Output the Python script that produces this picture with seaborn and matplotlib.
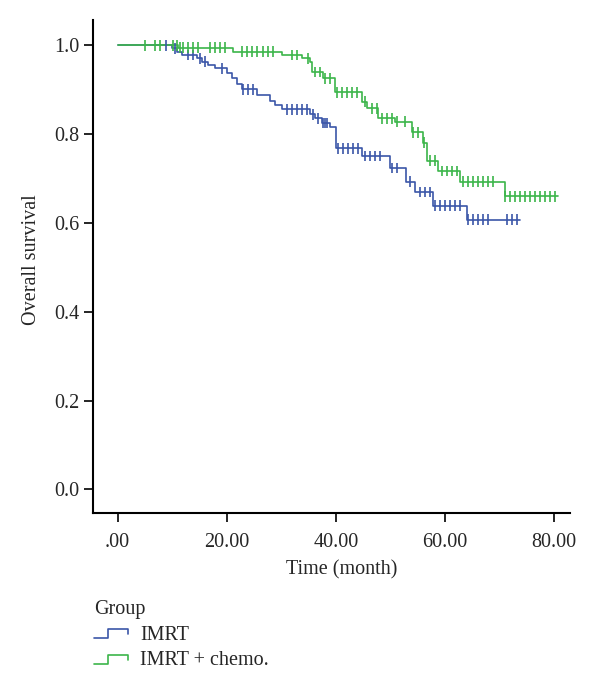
import numpy as np
import pandas as pd
import matplotlib
matplotlib.use('Agg')
import matplotlib.pyplot as plt
from matplotlib.lines import Line2D
from matplotlib.legend_handler import HandlerBase
import seaborn as sns

# Kaplan-Meier steps (time in months, survival)
imrt_time = [0, 10.0, 10.9, 11.8, 14.6, 15.5, 16.6, 17.9, 20.1, 21.0, 21.9, 22.8,
             25.5, 27.9, 28.8, 30.1, 35.3, 36.2, 37.5, 38.9, 40.0, 44.8, 49.9,
             52.8, 54.5, 57.8, 64.0, 73.7]
imrt_surv = [1.0, 0.993, 0.986, 0.978, 0.971, 0.963, 0.956, 0.948, 0.937, 0.926, 0.914, 0.901,
             0.888, 0.875, 0.866, 0.856, 0.845, 0.836, 0.825, 0.816, 0.768, 0.751, 0.724,
             0.693, 0.670, 0.639, 0.607, 0.607]
imrt_cens = [8.9, 10.5, 12.9, 13.8, 15.1, 16.0, 19.1, 23.0, 23.9, 24.8, 31.0, 32.0, 32.9,
             33.8, 34.7, 35.8, 36.7, 37.6, 38.0, 38.4, 40.4, 41.3, 42.2, 43.1, 44.0, 45.3,
             46.2, 47.2, 48.1, 50.3, 51.2, 53.6, 55.4, 56.3, 57.2, 58.2, 59.1, 60.0, 60.9,
             61.8, 62.7, 64.2, 65.1, 66.0, 66.9, 67.9, 71.3, 72.3, 73.2]

chemo_time = [0, 11.1, 21.2, 30.1, 33.8, 35.3, 35.6, 37.6, 39.8, 44.8, 45.7, 47.7, 50.8,
              53.9, 56.0, 56.7, 58.7, 62.7, 71.0, 80.7]
chemo_surv = [1.0, 0.995, 0.986, 0.978, 0.971, 0.963, 0.940, 0.926, 0.894, 0.873, 0.858,
              0.836, 0.828, 0.804, 0.781, 0.740, 0.717, 0.693, 0.660, 0.660]
chemo_cens = [5.1, 6.9, 7.8, 10.2, 10.9, 11.4, 12.0, 12.9, 13.8, 14.7, 16.9, 17.9, 18.8,
              19.7, 22.8, 23.7, 24.6, 25.5, 26.6, 27.6, 28.5, 32.0, 32.9, 34.9, 36.2, 37.1,
              38.0, 38.9, 40.2, 41.1, 42.0, 42.9, 43.9, 45.3, 46.6, 47.5, 48.4, 49.4, 50.3,
              51.2, 52.7, 54.1, 55.0, 56.1, 57.2, 58.2, 59.4, 60.3, 61.3, 62.2, 63.3, 64.2,
              65.1, 66.0, 66.9, 67.9, 68.8, 71.0, 71.9, 72.8, 73.7, 74.6, 75.5, 76.4, 77.4,
              78.3, 79.2, 80.1]

groups = ['IMRT', 'IMRT + chemo.']
colors = {'IMRT': '#3b56a8', 'IMRT + chemo.': '#3cb54a'}
xticks = [0, 20, 40, 60, 80]
xticklabels = ['.00', '20.00', '40.00', '60.00', '80.00']
yticks = [0.0, 0.2, 0.4, 0.6, 0.8, 1.0]


def surv_at(times, surv, t):
    idx = np.searchsorted(times, t, side='right') - 1
    return np.array(surv)[idx]


curves = pd.concat([
    pd.DataFrame({'time': imrt_time, 'surv': imrt_surv, 'group': groups[0]}),
    pd.DataFrame({'time': chemo_time, 'surv': chemo_surv, 'group': groups[1]}),
])
cens = pd.concat([
    pd.DataFrame({'time': imrt_cens, 'surv': surv_at(imrt_time, imrt_surv, imrt_cens),
                  'group': groups[0]}),
    pd.DataFrame({'time': chemo_cens, 'surv': surv_at(chemo_time, chemo_surv, chemo_cens),
                  'group': groups[1]}),
])

sns.set_style('ticks')
plt.rcParams['font.family'] = ['Liberation Serif', 'DejaVu Serif']
fs = 14.5
plt.rcParams['font.size'] = fs

fig = plt.figure(figsize=(6, 6.93), dpi=100)
ax = fig.add_axes([93 / 600, 1 - 513 / 693, 477 / 600, 493 / 693])

sns.lineplot(data=curves, x='time', y='surv', hue='group', palette=colors,
             drawstyle='steps-post', estimator=None, sort=False, legend=False,
             lw=1.2, ax=ax)
sns.scatterplot(data=cens, x='time', y='surv', hue='group', palette=colors,
                marker='|', s=60, linewidth=1.2, legend=False, ax=ax, zorder=3)

ax.set_xlim(-4.5, 82.9)
ax.set_ylim(-0.053, 1.057)
ax.set_xticks(xticks)
ax.set_xticklabels(xticklabels)
ax.set_yticks(yticks)
ax.set_yticklabels([f'{v:.1f}' for v in yticks])
ax.set_xlabel('Time (month)', fontsize=fs)
ax.set_ylabel('Overall survival', fontsize=fs)
ax.xaxis.set_label_coords(0.522, -0.095)
ax.yaxis.set_label_coords(-0.11, 0.513)
for side in ['top', 'right']:
    ax.spines[side].set_visible(False)
for side in ['left', 'bottom']:
    ax.spines[side].set_linewidth(1.5)
    ax.spines[side].set_color('black')
ax.tick_params(axis='both', direction='out', length=6.5, width=1.2, color='black',
               labelsize=fs)
ax.tick_params(axis='x', pad=8)
ax.tick_params(axis='y', pad=3)


class StepHandler(HandlerBase):
    def create_artists(self, legend, orig_handle, xdescent, ydescent, width, height,
                       fontsize, trans):
        xs = np.array([0, 0.4, 0.4, 1.0, 1.0]) * width - xdescent
        ys = np.array([0.1, 0.1, 0.75, 0.75, 0.4]) * height - ydescent
        return [Line2D(xs, ys, color=orig_handle.get_color(), lw=1.2, transform=trans)]


handles = [Line2D([], [], color=colors[g]) for g in groups]
leg = fig.legend(handles, groups, handler_map={Line2D: StepHandler()},
                 loc='upper left', bbox_to_anchor=(94 / 600, 1 - 600 / 693),
                 frameon=False, title='Group', alignment='left', fontsize=fs,
                 title_fontsize=fs, handlelength=1.7, handletextpad=0.6,
                 labelspacing=0.33, borderpad=0, borderaxespad=0)

fig.savefig('out.png', dpi=100)
